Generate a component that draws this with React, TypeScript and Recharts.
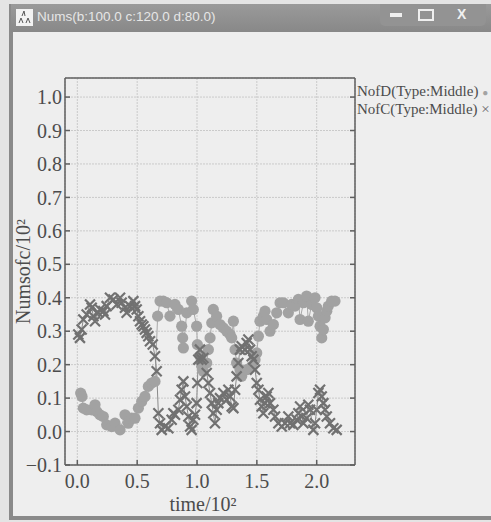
import React from "react";
import { CartesianGrid, ComposedChart, Line, XAxis, YAxis } from "recharts";

const xTicks = [0, 0.5, 1.0, 1.5, 2.0];
const yTicks = [-0.1, 0, 0.1, 0.2, 0.3, 0.4, 0.5, 0.6, 0.7, 0.8, 0.9, 1.0];

// NofD (Type:Middle) – circles
const nofDTime = [
  0.028, 0.039, 0.05, 0.078, 0.12, 0.148, 0.162, 0.189, 0.217, 0.245, 0.287, 0.315, 0.357, 0.398, 0.426,
  0.454, 0.482, 0.51, 0.538, 0.565, 0.593, 0.621, 0.649, 0.671, 0.691, 0.719, 0.747, 0.774, 0.816, 0.844,
  0.872, 0.88, 0.886, 0.914, 0.955, 0.969, 0.997, 1.003, 1.025, 1.039, 1.053, 1.081, 1.095, 1.109, 1.123,
  1.136, 1.164, 1.192, 1.22, 1.248, 1.276, 1.29, 1.304, 1.318, 1.331, 1.359, 1.373, 1.415, 1.457, 1.485,
  1.499, 1.513, 1.526, 1.554, 1.568, 1.582, 1.61, 1.638, 1.666, 1.694, 1.721, 1.763, 1.791, 1.819, 1.847,
  1.861, 1.889, 1.916, 1.93, 1.958, 1.986, 2.0, 2.014, 2.028, 2.042, 2.056, 2.07, 2.084, 2.097, 2.125, 2.153,
];
const nofDValue = [
  0.115, 0.105, 0.07, 0.065, 0.065, 0.08, 0.06, 0.05, 0.045, 0.02, 0.015, 0.025, 0.005, 0.05, 0.025,
  0.04, 0.04, 0.07, 0.09, 0.105, 0.135, 0.145, 0.15, 0.345, 0.39, 0.39, 0.385, 0.345, 0.38, 0.365,
  0.315, 0.28, 0.25, 0.355, 0.39, 0.365, 0.315, 0.26, 0.225, 0.195, 0.18, 0.205, 0.245, 0.28, 0.325,
  0.365, 0.345, 0.32, 0.31, 0.3, 0.29, 0.28, 0.33, 0.245, 0.205, 0.185, 0.165, 0.185, 0.195, 0.215,
  0.235, 0.285, 0.33, 0.345, 0.36, 0.335, 0.3, 0.32, 0.355, 0.385, 0.385, 0.355, 0.38, 0.375, 0.395,
  0.335, 0.385, 0.405, 0.33, 0.38, 0.4, 0.37, 0.345, 0.315, 0.28, 0.305, 0.34, 0.36, 0.375, 0.39, 0.39,
];

// NofC (Type:Middle) – crosses
const nofCTime = [
  0.008, 0.022, 0.036, 0.05, 0.078, 0.106, 0.12, 0.134, 0.148, 0.175, 0.189, 0.217, 0.231, 0.245, 0.273,
  0.301, 0.329, 0.357, 0.37, 0.398, 0.412, 0.44, 0.468, 0.482, 0.496, 0.51, 0.524, 0.538, 0.552, 0.565,
  0.579, 0.593, 0.607, 0.63, 0.649, 0.663, 0.677, 0.691, 0.705, 0.733, 0.76, 0.788, 0.802, 0.816, 0.844,
  0.858, 0.872, 0.886, 0.9, 0.914, 0.928, 0.942, 0.955, 0.969, 0.983, 0.997, 1.003, 1.011, 1.025, 1.039,
  1.053, 1.081, 1.095, 1.109, 1.123, 1.136, 1.15, 1.164, 1.178, 1.192, 1.22, 1.248, 1.262, 1.276, 1.29,
  1.304, 1.318, 1.331, 1.345, 1.359, 1.373, 1.401, 1.415, 1.429, 1.443, 1.457, 1.471, 1.485, 1.499, 1.513,
  1.526, 1.54, 1.554, 1.568, 1.582, 1.596, 1.61, 1.638, 1.652, 1.68, 1.708, 1.735, 1.763, 1.777, 1.805,
  1.833, 1.847, 1.861, 1.875, 1.889, 1.916, 1.93, 1.944, 1.972, 1.986, 2.0, 2.014, 2.028, 2.042, 2.056,
  2.07, 2.084, 2.111, 2.139, 2.167,
];
const nofCValue = [
  0.29, 0.28, 0.305, 0.335, 0.35, 0.38, 0.37, 0.345, 0.33, 0.355, 0.365, 0.36, 0.35, 0.375, 0.4,
  0.395, 0.38, 0.4, 0.385, 0.37, 0.355, 0.375, 0.39, 0.375, 0.365, 0.345, 0.33, 0.32, 0.315, 0.305,
  0.295, 0.285, 0.27, 0.26, 0.225, 0.18, 0.055, 0.025, 0.005, 0.015, 0.01, 0.035, 0.055, 0.05, 0.065,
  0.095, 0.125, 0.15, 0.105, 0.075, 0.045, 0.015, 0.005, 0.035, 0.05, 0.085, 0.145, 0.215, 0.245, 0.215,
  0.22, 0.175, 0.145, 0.115, 0.085, 0.055, 0.025, 0.065, 0.085, 0.1, 0.115, 0.095, 0.125, 0.105, 0.075,
  0.07, 0.125, 0.165, 0.205, 0.245, 0.255, 0.245, 0.265, 0.275, 0.245, 0.225, 0.215, 0.185, 0.145, 0.125,
  0.095, 0.075, 0.055, 0.085, 0.105, 0.115, 0.085, 0.065, 0.045, 0.025, 0.015, 0.025, 0.045, 0.025, 0.02,
  0.035, 0.055, 0.075, 0.045, 0.025, 0.04, 0.08, 0.065, 0.005, 0.025, 0.065, 0.115, 0.125, 0.105, 0.085,
  0.065, 0.045, 0.025, 0.01, 0.005,
];

const nofD = nofDTime.map((t, i) => ({ t, v: nofDValue[i] }));
const nofC = nofCTime.map((t, i) => ({ t, v: nofCValue[i] }));

const serif = "'Liberation Serif', 'DejaVu Serif', serif";
const axisColor = "#5f5f5f";
const textColor = "#4c4c4c";

const fmt = (v: number) => (v < 0 ? "\u2212" + Math.abs(v).toFixed(1) : v.toFixed(1));
const blank = () => "";

const CircleDot = (p: any) => {
  if (p.cx == null || p.cy == null) return <g key={`cd-${p.index}`} />;
  return <circle key={`cd-${p.index}`} cx={p.cx} cy={p.cy} r={5.6} fill="#a2a2a2" />;
};

const CrossDot = (p: any) => {
  if (p.cx == null || p.cy == null) return <g key={`xd-${p.index}`} />;
  const s = 5;
  return (
    <path
      key={`xd-${p.index}`}
      d={`M${p.cx - s},${p.cy - s}L${p.cx + s},${p.cy + s}M${p.cx - s},${p.cy + s}L${p.cx + s},${p.cy - s}`}
      stroke="#717171"
      strokeWidth={2.2}
      fill="none"
    />
  );
};

function Window({ children }: { children: React.ReactNode }) {
  return (
    <div style={{ position: "fixed", left: 0, top: 0, width: 491, height: 522, background: "#e4e4e4", overflow: "hidden" }}>
      <div style={{ position: "absolute", left: 9, top: 4, width: 4, height: 516, background: "#8a8a8a" }} />
      <div style={{ position: "absolute", left: 9, top: 516, width: 482, height: 4, background: "#8a8a8a" }} />
      <div style={{ position: "absolute", left: 13, top: 32, width: 478, height: 484, background: "#eeeeee" }} />
      <div
        style={{
          position: "absolute",
          left: 11,
          top: 4,
          width: 480,
          height: 28,
          background: "linear-gradient(#9a9a9a, #888888)",
        }}
      />
      <svg width={17} height={17} style={{ position: "absolute", left: 16, top: 9 }}>
        <rect width={17} height={17} fill="#f2f2f2" />
        <path d="M8,2L6,7M8,2L9,7M3,14L5,9L7,14M10,14L12,9L14,14" stroke="#555" strokeWidth={1} fill="none" />
      </svg>
      <div
        style={{
          position: "absolute",
          left: 37,
          top: 9,
          color: "#e6e6e6",
          fontFamily: "'Liberation Sans', Arial, sans-serif",
          fontSize: 13.5,
          whiteSpace: "nowrap",
        }}
      >
        Nums(b:100.0 c:120.0 d:80.0)
      </div>
      <div
        style={{
          position: "absolute",
          left: 380,
          top: 4,
          width: 106,
          height: 22,
          background: "#939393",
          borderRadius: "0 0 5px 5px",
          color: "#f0f0f0",
          fontFamily: "'Liberation Sans', Arial, sans-serif",
          fontWeight: 700,
          fontSize: 14,
        }}
      >
        <div style={{ position: "absolute", left: 10, top: 9, width: 12, height: 4, background: "#efefef" }} />
        <div style={{ position: "absolute", left: 38, top: 5, width: 12, height: 8, border: "2px solid #efefef" }} />
        <div style={{ position: "absolute", left: 77, top: 2 }}>X</div>
      </div>
      {children}
    </div>
  );
}

export default function App() {
  return (
    <Window>
      <ComposedChart
        width={491}
        height={522}
        margin={{ top: 73, right: 131, bottom: 7, left: 0 }}
        style={{ position: "absolute", left: 0, top: 0 }}
      >
        <CartesianGrid xAxisId="b" yAxisId="l" stroke="#cacaca" strokeDasharray="2 1" />
        <XAxis
          xAxisId="b"
          type="number"
          dataKey="t"
          domain={[-0.103, 2.32]}
          allowDataOverflow
          ticks={xTicks}
          interval={0}
          tickFormatter={fmt}
          tickSize={-5}
          tickMargin={14}
          height={50}
          stroke={axisColor}
          strokeWidth={1.5}
          tick={{ fill: textColor, fontSize: 20, fontFamily: serif }}
          label={{
            content: (p: any) => (
              <text
                x={p.viewBox.x + p.viewBox.width / 2 - 7}
                y={p.viewBox.y + 46}
                textAnchor="middle"
                fill={textColor}
                fontSize={20}
                fontFamily={serif}
              >
                time/10²
              </text>
            ),
          }}
        />
        <XAxis
          xAxisId="t"
          orientation="top"
          type="number"
          domain={[-0.103, 2.32]}
          allowDataOverflow
          ticks={xTicks}
          interval={0}
          tickFormatter={blank}
          tickSize={-5}
          height={5}
          stroke={axisColor}
          strokeWidth={1.5}
        />
        <YAxis
          yAxisId="l"
          type="number"
          domain={[-0.1, 1.057]}
          allowDataOverflow
          ticks={yTicks}
          interval={0}
          tickFormatter={fmt}
          tickSize={-5}
          tickMargin={8}
          width={65}
          stroke={axisColor}
          strokeWidth={1.5}
          tick={{ fill: textColor, fontSize: 20, fontFamily: serif }}
          label={{
            content: (p: any) => {
              const cx = p.viewBox.x + 23;
              const cy = p.viewBox.y + p.viewBox.height / 2;
              return (
                <text
                  x={cx}
                  y={cy}
                  transform={`rotate(-90, ${cx}, ${cy})`}
                  textAnchor="middle"
                  dominantBaseline="central"
                  fill={textColor}
                  fontSize={20}
                  fontFamily={serif}
                >
                  Numsofc/10²
                </text>
              );
            },
          }}
        />
        <YAxis
          yAxisId="r"
          orientation="right"
          type="number"
          domain={[-0.1, 1.057]}
          allowDataOverflow
          ticks={yTicks}
          interval={0}
          tickFormatter={blank}
          tickSize={-5}
          width={5}
          stroke={axisColor}
          strokeWidth={1.5}
        />
        <Line
          xAxisId="b"
          yAxisId="l"
          data={nofD}
          dataKey="v"
          type="linear"
          stroke="#a8a8a8"
          strokeWidth={1}
          dot={CircleDot}
          activeDot={false}
          isAnimationActive={false}
        />
        <Line
          xAxisId="b"
          yAxisId="l"
          data={nofC}
          dataKey="v"
          type="linear"
          stroke="#8a8a8a"
          strokeWidth={1}
          dot={CrossDot}
          activeDot={false}
          isAnimationActive={false}
        />
      </ComposedChart>
      <div
        style={{
          position: "absolute",
          left: 357,
          top: 83,
          fontFamily: serif,
          fontSize: 15,
          lineHeight: "16px",
          color: textColor,
          whiteSpace: "nowrap",
        }}
      >
        <div>
          NofD(Type:Middle) <span style={{ color: "#a3a3a3", fontSize: 10 }}>●</span>
        </div>
        <div>
          NofC(Type:Middle) <span style={{ color: "#6a6a6a" }}>×</span>
        </div>
      </div>
    </Window>
  );
}
